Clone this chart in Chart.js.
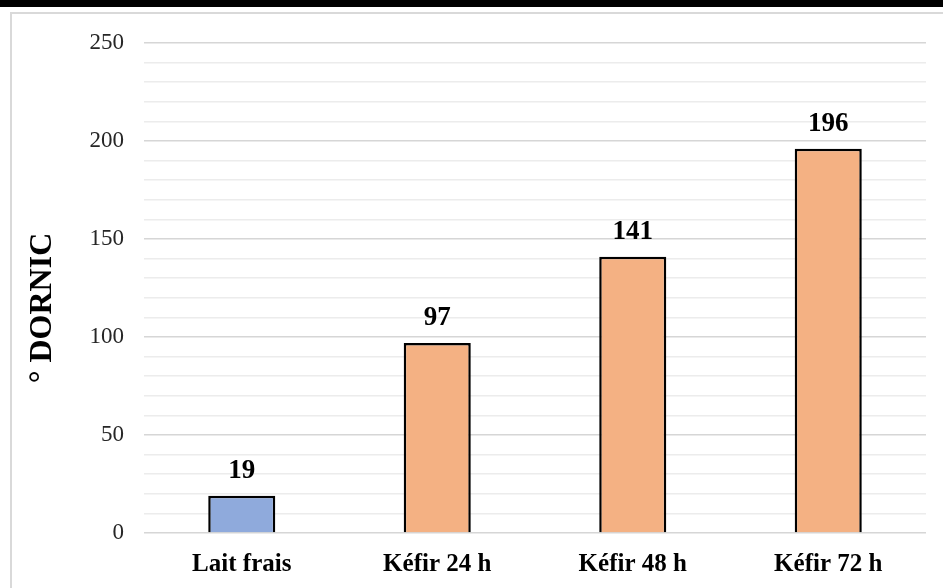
<!DOCTYPE html>
<html>
<head>
<meta charset="utf-8">
<script src="https://cdn.jsdelivr.net/npm/chart.js@4/dist/chart.umd.min.js"></script>
<style>
html,body{margin:0;padding:0;background:#fff;}
#wrap{width:943px;height:588px;position:relative;}
</style>
</head>
<body>
<div id="wrap"><canvas id="c" width="943" height="588"></canvas></div>
<script>
const categories = ['Lait frais', 'Kéfir 24 h', 'Kéfir 48 h', 'Kéfir 72 h'];
const values = [19, 97, 141, 196];
const barColors = ['#8FAADC', '#F4B183', '#F4B183', '#F4B183'];
const yTitle = '° DORNIC';
const yMax = 250;
const yMajorStep = 50;
const yMinorStep = 10;

const framePlugin = {
  id: 'frame',
  beforeDraw(chart) {
    const ctx = chart.ctx;
    ctx.save();
    ctx.fillStyle = '#fff';
    ctx.fillRect(0, 0, chart.width, chart.height);
    ctx.fillStyle = '#000';
    ctx.fillRect(0, 0, chart.width, 7);
    ctx.strokeStyle = '#d9d9d9';
    ctx.lineWidth = 2;
    ctx.beginPath();
    ctx.moveTo(11, chart.height);
    ctx.lineTo(11, 13);
    ctx.lineTo(chart.width, 13);
    ctx.stroke();
    ctx.restore();
  },
  afterDraw(chart) {
    const ctx = chart.ctx;
    ctx.save();
    ctx.fillStyle = '#000';
    ctx.font = 'bold 32px "Liberation Serif"';
    ctx.textAlign = 'center';
    ctx.textBaseline = 'middle';
    ctx.translate(43, 308);
    ctx.rotate(-Math.PI / 2);
    ctx.fillText(yTitle, 0, 0);
    ctx.restore();
  },
  afterDatasetsDraw(chart) {
    const ctx = chart.ctx;
    const meta = chart.getDatasetMeta(0);
    ctx.save();
    ctx.fillStyle = '#000';
    ctx.font = 'bold 27px "Liberation Serif"';
    ctx.textAlign = 'center';
    ctx.textBaseline = 'alphabetic';
    meta.data.forEach((bar, i) => {
      ctx.fillText(String(chart.data.datasets[0].data[i]), bar.x, bar.y - 18);
    });
    ctx.restore();
  }
};

new Chart(document.getElementById('c'), {
  type: 'bar',
  data: {
    labels: categories,
    datasets: [{
      data: values,
      backgroundColor: barColors,
      borderColor: '#000',
      borderWidth: 2.5,
      categoryPercentage: 1,
      barPercentage: 0.343
    }]
  },
  options: {
    responsive: false,
    animation: false,
    devicePixelRatio: 1,
    layout: { padding: { top: 43, right: 17, left: 0, bottom: 0 } },
    plugins: { legend: { display: false }, tooltip: { enabled: false } },
    scales: {
      x: {
        grid: { display: false, drawTicks: false },
        border: { display: false },
        ticks: {
          padding: 17,
          color: '#000',
          font: { family: 'Liberation Serif', size: 25, weight: 'bold' },
          maxRotation: 0,
          autoSkip: false
        },
        afterFit(s) { s.height = 55; }
      },
      y: {
        min: 0,
        max: yMax,
        border: { display: false },
        grid: {
          drawTicks: false,
          lineWidth: 1.5,
          color: (c) => (c.tick && c.tick.value % yMajorStep === 0) ? '#d6d6d6' : '#ececec'
        },
        ticks: {
          stepSize: yMinorStep,
          autoSkip: false,
          padding: 20,
          color: '#262626',
          font: { family: 'Liberation Serif', size: 23 },
          callback: (v) => (v % yMajorStep === 0) ? String(v) : ''
        },
        afterFit(s) { s.width = 144; }
      }
    }
  },
  plugins: [framePlugin]
});
</script>
</body>
</html>
